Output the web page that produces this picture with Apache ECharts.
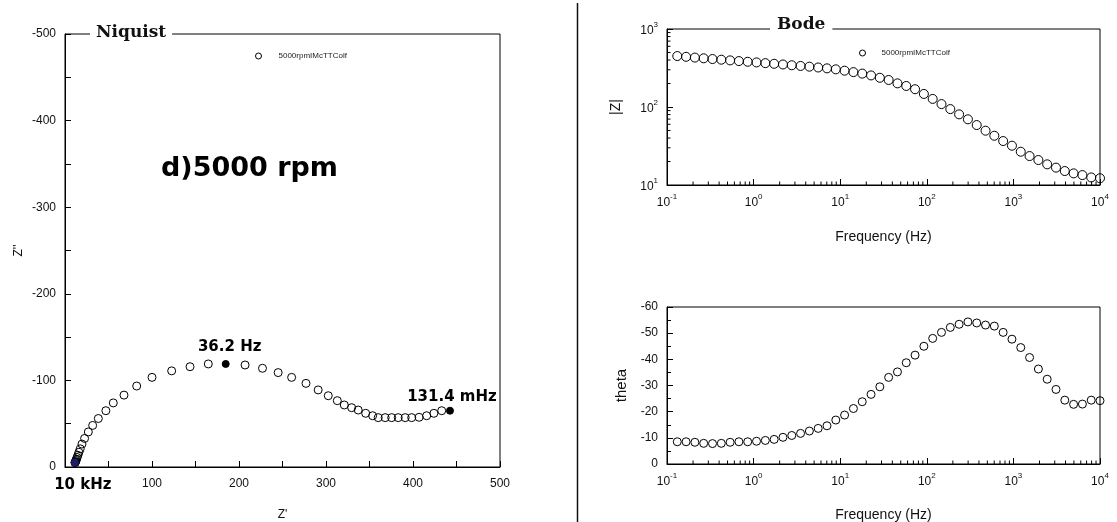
<!DOCTYPE html>
<html>
<head>
<meta charset="utf-8">
<script src="https://cdn.jsdelivr.net/npm/echarts@6/dist/echarts.min.js"></script>
<style>
  html, body { margin: 0; padding: 0; background: #fff; }
  #chart { width: 1117px; height: 522px; }
</style>
</head>
<body>
<div id="chart"></div>
<script>
// Impedance spectrum, 5000 rpm, listed from the lowest to the highest frequency
const seriesName = '5000rpmIMcTTColf';

const freqHz = [
  0.1314, 0.1661, 0.2099, 0.2652, 0.3352, 0.4237, 0.5355, 0.6768, 0.8552, 1.081,
  1.366, 1.727, 2.183, 2.759, 3.487, 4.407, 5.569, 7.039, 8.896, 11.24,
  14.21, 17.96, 22.70, 28.69, 36.26, 45.83, 57.92, 73.20, 92.52, 116.9,
  147.8, 186.8, 236.1, 298.4, 377.1, 476.6, 602.4, 761.3, 962.2, 1216,
  1537, 1943, 2455, 3103, 3922, 4957, 6265, 7918, 10000
];

// Nyquist: Z' and Z'' (ohm)
const zReal = [
  442.5, 433, 424, 415.7, 407, 398.5, 391, 383, 375.5, 368,
  360, 353.6, 345.6, 337, 329.5, 321, 313, 302.6, 291, 277,
  260.5, 245, 227, 207, 184.7, 164.7, 143.7, 122.6, 100, 82.4,
  67.8, 55.5, 47, 38.3, 31.8, 26.8, 22.5, 19.5, 17.5, 16,
  14.8, 13.9, 13.2, 12.6, 12.2, 11.8, 11.6, 11.5, 11.3
];
const zImag = [
  -65, -65, -62, -59.2, -57.4, -57, -57, -57, -57, -57,
  -57, -59.2, -62, -65.8, -68.5, -71.6, -76.6, -82.3, -89, -96.6,
  -103.5, -109, -114, -117.8, -119, -119, -115.8, -111, -103.5, -93.5,
  -83, -74, -65, -56, -48, -40.5, -33, -26.5, -21, -17,
  -13.5, -11, -9, -7.5, -6.3, -5.5, -5.0, -5.2, -5.0
];

// Bode: modulus (ohm) and phase (degrees)
const zModulus = [
  450, 440, 430, 421, 412, 404, 396, 388, 380, 373,
  365, 358, 351, 343, 336, 329, 321, 313, 304, 292,
  280, 268, 254, 237, 222, 201, 186, 169, 147, 127,
  109, 94, 80.5, 69.5, 58.7, 49.7, 42.8, 36.6, 31.9, 26.7,
  23.5, 20.9, 18.4, 16.7, 15.1, 14.1, 13.4, 12.5, 12.2
];
const phaseDeg = [
  -8.5, -8.5, -8.3, -7.9, -7.8, -7.9, -8.3, -8.5, -8.5, -8.7,
  -9.0, -9.4, -10.2, -10.9, -11.7, -12.6, -13.6, -14.6, -16.8, -18.7,
  -21.2, -23.8, -26.6, -29.5, -33.1, -35.2, -38.7, -41.6, -45, -48,
  -50.3, -52.2, -53.4, -54.3, -53.9, -53.1, -52.7, -50.3, -47.7, -44.5,
  -40.7, -36.3, -32.4, -28.5, -24.4, -22.8, -22.9, -24.4, -24.2
];

// Frequency tags on the Nyquist curve (index into the arrays above)
const taggedPoints = [
  { index: 0,  text: '131.4 mHz', color: '#000',    pos: 'top',    offset: [2, 3] },
  { index: 24, text: '36.2 Hz',   color: '#000',    pos: 'top',    offset: [4, 0] },
  { index: 48, text: '10 kHz',    color: '#1c1c6a', pos: 'bottom', offset: [8, 6] }
];

const SANS = "'Liberation Sans', Arial, sans-serif";
const ink = '#000';
const labelInk = '#111';

// log-decade minor tick positions (2..9 x 10^e)
function logMinorTicks(fromExp, toExp) {
  const out = [];
  for (let e = fromExp; e < toExp; e++) {
    for (let m = 2; m <= 9; m++) out.push(Number((m * Math.pow(10, e)).toPrecision(3)));
  }
  return out;
}

function powerLabel(v) {
  const e = Math.round(Math.log10(v));
  return '{b|10}{s|' + e + '}';
}
const powerRich = {
  b: { fontSize: 12, fontFamily: SANS, color: labelInk, verticalAlign: 'bottom', lineHeight: 16 },
  s: { fontSize: 8, fontFamily: SANS, color: labelInk, verticalAlign: 'top', lineHeight: 16 }
};

function baseAxis(extra) {
  return Object.assign({
    axisLine: { show: true, lineStyle: { color: ink, width: 1 } },
    axisTick: { show: true, inside: true, length: 6, lineStyle: { color: ink } },
    splitLine: { show: false },
    axisLabel: { color: labelInk, fontSize: 12, fontFamily: SANS }
  }, extra);
}

// draws short inward ticks at log minor positions, placed through the axis scales
function tickSeries(xAxisIndex, yAxisIndex, points, dir) {
  return {
    type: 'custom',
    xAxisIndex, yAxisIndex,
    silent: true, clip: false, z: 5,
    data: points,
    renderItem: function (params, api) {
      const p = api.coord([api.value(0), api.value(1)]);
      const len = 3.5;
      const shape = dir === 'up'
        ? { x1: p[0], y1: p[1], x2: p[0], y2: p[1] - len }
        : { x1: p[0], y1: p[1], x2: p[0] + len, y2: p[1] };
      return { type: 'line', shape, style: { stroke: ink, lineWidth: 1 } };
    }
  };
}

const hollow = { color: 'rgba(0,0,0,0)', borderColor: ink, borderWidth: 1, opacity: 1 };

const nyquistData = zReal.map((x, i) => {
  const tag = taggedPoints.find(t => t.index === i);
  const item = { value: [x, zImag[i]] };
  if (tag) {
    item.itemStyle = { color: tag.color, borderColor: tag.color, opacity: 1 };
    item.symbolSize = 7;
    item.label = {
      show: true, formatter: tag.text, position: tag.pos, offset: tag.offset,
      fontFamily: "'DejaVu Sans', sans-serif", fontWeight: 'bold', fontSize: 15, color: '#000'
    };
  }
  return item;
});

const freqMinor = logMinorTicks(-1, 4);
const modMinor = logMinorTicks(1, 3);

const legendText = { fontSize: 8, color: '#222', fontFamily: SANS };

const option = {
  backgroundColor: '#fff',
  animation: false,
  title: [
    { text: 'Niquist', left: 90, top: 24, padding: [0, 6], backgroundColor: '#fff',
      textStyle: { fontFamily: "'DejaVu Serif', serif", fontWeight: 'bold', fontSize: 17, color: '#111' } },
    { text: 'Bode', left: 770, top: 16, padding: [0, 7], backgroundColor: '#fff',
      textStyle: { fontFamily: "'DejaVu Serif', serif", fontWeight: 'bold', fontSize: 17, color: '#111' } },
    { text: 'd)5000 rpm', left: 161, top: 155, padding: 0,
      textStyle: { fontFamily: "'DejaVu Sans', Verdana, sans-serif", fontWeight: 'bold', fontSize: 27, color: '#000' } }
  ],
  legend: [
    { data: [seriesName], left: 250, top: 47, icon: 'circle', itemWidth: 30, itemHeight: 6,
      itemStyle: { color: '#fff', borderColor: ink, borderWidth: 1 }, textStyle: legendText },
    { data: [seriesName], left: 854, top: 44, icon: 'circle', itemWidth: 28, itemHeight: 6,
      itemStyle: { color: '#fff', borderColor: ink, borderWidth: 1 }, textStyle: legendText }
  ],
  graphic: [
    { type: 'line', shape: { x1: 577.5, y1: 3, x2: 577.5, y2: 522 }, style: { stroke: '#111', lineWidth: 1.5 }, silent: true }
  ],
  grid: [
    { left: 65, top: 34, width: 435, height: 433, show: true, borderColor: ink, borderWidth: 1,
      containLabel: false, outerBoundsMode: 'none' },
    { left: 667, top: 29, width: 433, height: 156, show: true, borderColor: ink, borderWidth: 1,
      containLabel: false, outerBoundsMode: 'none' },
    { left: 667, top: 307, width: 433, height: 157, show: true, borderColor: ink, borderWidth: 1,
      containLabel: false, outerBoundsMode: 'none' }
  ],
  xAxis: [
    baseAxis({
      gridIndex: 0, type: 'value', min: 0, max: 500, interval: 100,
      minorTick: { show: true, splitNumber: 2, length: 6, lineStyle: { color: ink } },
      axisLabel: { color: labelInk, fontSize: 12, fontFamily: SANS, margin: 11,
        formatter: v => (v === 0 ? '' : String(v)) },
      name: "Z'", nameLocation: 'middle', nameGap: 42,
      nameTextStyle: { fontSize: 12, color: labelInk, fontFamily: SANS }
    }),
    baseAxis({
      gridIndex: 1, type: 'log', logBase: 10, min: 0.1, max: 10000,
      axisLabel: { formatter: powerLabel, rich: powerRich, margin: 8 },
      name: 'Frequency (Hz)', nameLocation: 'middle', nameGap: 45,
      nameTextStyle: { fontSize: 14, color: labelInk, fontFamily: SANS }
    }),
    baseAxis({
      gridIndex: 2, type: 'log', logBase: 10, min: 0.1, max: 10000,
      axisLabel: { formatter: powerLabel, rich: powerRich, margin: 8 },
      name: 'Frequency (Hz)', nameLocation: 'middle', nameGap: 44,
      nameTextStyle: { fontSize: 14, color: labelInk, fontFamily: SANS }
    })
  ],
  yAxis: [
    baseAxis({
      gridIndex: 0, type: 'value', min: -500, max: 0, interval: 100, inverse: true,
      minorTick: { show: true, splitNumber: 2, length: 6, lineStyle: { color: ink } },
      axisLabel: { color: labelInk, fontSize: 12, fontFamily: SANS, margin: 9 },
      name: "Z''", nameLocation: 'middle', nameGap: 40,
      nameTextStyle: { fontSize: 12, color: labelInk, fontFamily: SANS }
    }),
    baseAxis({
      gridIndex: 1, type: 'log', logBase: 10, min: 10, max: 1000,
      axisLabel: { formatter: powerLabel, rich: powerRich, margin: 9 },
      name: '|Z|', nameLocation: 'middle', nameGap: 44,
      nameTextStyle: { fontSize: 14, color: labelInk, fontFamily: SANS }
    }),
    baseAxis({
      gridIndex: 2, type: 'value', min: -60, max: 0, interval: 10, inverse: true,
      minorTick: { show: true, splitNumber: 2, length: 4, lineStyle: { color: ink } },
      axisLabel: { color: labelInk, fontSize: 12, fontFamily: SANS, margin: 9 },
      name: 'theta', nameLocation: 'middle', nameGap: 38,
      nameTextStyle: { fontSize: 15, color: labelInk, fontFamily: SANS }
    })
  ],
  series: [
    { name: seriesName, type: 'scatter', xAxisIndex: 0, yAxisIndex: 0,
      symbol: 'circle', symbolSize: 8, itemStyle: hollow, data: nyquistData, z: 3 },
    { name: seriesName, type: 'scatter', xAxisIndex: 1, yAxisIndex: 1,
      symbol: 'circle', symbolSize: 9, itemStyle: hollow,
      data: freqHz.map((f, i) => [f, zModulus[i]]) },
    { name: seriesName, type: 'scatter', xAxisIndex: 2, yAxisIndex: 2,
      symbol: 'circle', symbolSize: 8, itemStyle: hollow,
      data: freqHz.map((f, i) => [f, phaseDeg[i]]) },
    tickSeries(1, 1, freqMinor.map(f => [f, 10]), 'up'),
    tickSeries(1, 1, modMinor.map(v => [0.1, v]), 'right'),
    tickSeries(2, 2, freqMinor.map(f => [f, 0]), 'up')
  ]
};

const chart = echarts.init(document.getElementById('chart'));
chart.setOption(option);
</script>
</body>
</html>
